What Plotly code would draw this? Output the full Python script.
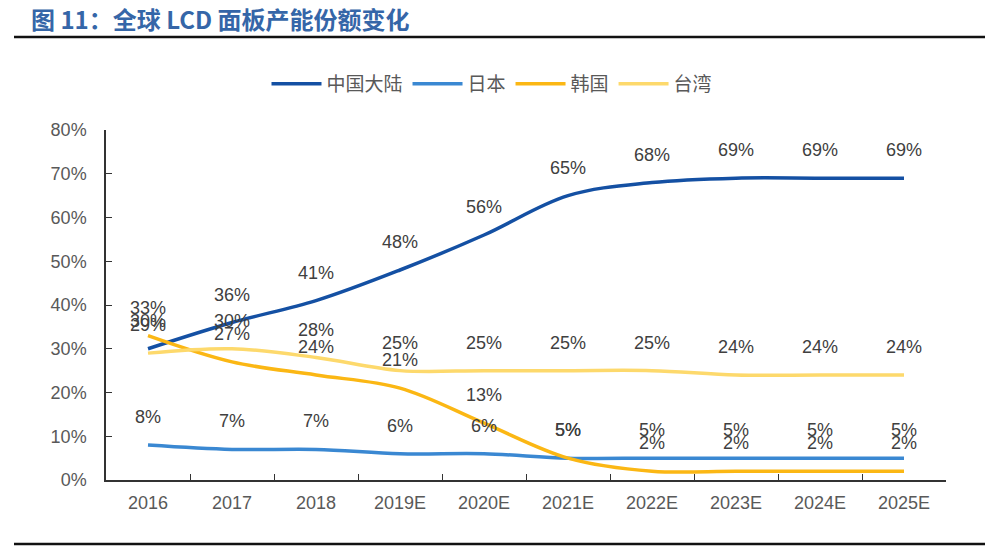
import plotly.graph_objects as go

years = ["2016", "2017", "2018", "2019E", "2020E", "2021E", "2022E", "2023E", "2024E", "2025E"]
china = [30, 36, 41, 48, 56, 65, 68, 69, 69, 69]
japan = [8, 7, 7, 6, 6, 5, 5, 5, 5, 5]
korea = [33, 27, 24, 21, 13, 5, 2, 2, 2, 2]
taiwan = [29, 30, 28, 25, 25, 25, 25, 24, 24, 24]

series = [
    ("中国大陆", china, "#1450a3"),
    ("日本", japan, "#3a88d2"),
    ("韩国", korea, "#fbb714"),
    ("台湾", taiwan, "#fdd96c"),
]

# page offset (body margin) compensation
OFF = 8
W, H = 1000, 553
L, T = 106 - OFF, 130 - OFF
pw, ph = 840, 350
R = W - L - pw
B = H - T - ph


def px_x(p):
    return (p - OFF - L) / pw


def px_y(p):
    return (H - B - (p - OFF)) / ph


fig = go.Figure()
annotations = []
for name, vals, color in series:
    fig.add_trace(go.Scatter(
        x=years, y=[v / 100 for v in vals], name=name, mode="lines",
        line=dict(color=color, width=3.5, shape="spline", smoothing=1.0),
    ))
    for i, v in enumerate(vals):
        annotations.append(dict(
            x=i, y=v / 100, xref="x", yref="y", text=f"{v}%", showarrow=False,
            yshift=28, font=dict(family="Liberation Sans, Arial", size=18, color="#404040"),
        ))

# title
annotations.append(dict(
    x=px_x(29), y=px_y(19), xref="paper", yref="paper", xanchor="left", yanchor="middle",
    text="<b>图 11：全球 LCD 面板产能份额变化</b>",
    showarrow=False, font=dict(family="Noto Sans CJK SC", size=24, color="#3566a8"),
))

shapes = [
    dict(type="line", xref="paper", yref="paper", x0=px_x(14), x1=px_x(985), y0=px_y(37), y1=px_y(37),
         line=dict(color="#111111", width=2.5)),
    dict(type="line", xref="paper", yref="paper", x0=px_x(14), x1=px_x(985), y0=px_y(544), y1=px_y(544),
         line=dict(color="#111111", width=2.5)),
]

fig.update_layout(
    width=W, height=H,
    margin=dict(l=L, r=R, t=T, b=B),
    paper_bgcolor="white", plot_bgcolor="white",
    annotations=annotations, shapes=shapes,
    showlegend=True,
    legend=dict(orientation="h", x=px_x(492), xanchor="center", y=px_y(84), yanchor="middle",
                font=dict(family="Noto Sans CJK SC", size=19, color="#595959"),
                itemwidth=50, tracegroupgap=0, bgcolor="rgba(0,0,0,0)"),
    xaxis=dict(type="category", showline=True, linecolor="#333333", linewidth=1.5,
               ticks="inside", tickson="boundaries", ticklen=6, tickcolor="#333333",
               showgrid=False, range=[-0.5, 9.5],
               tickfont=dict(family="Liberation Sans, Arial", size=18, color="#595959"),
               ticklabelstandoff=6),
    yaxis=dict(range=[0, 0.8], dtick=0.1, tickformat=".0%", showline=True, linecolor="#333333",
               linewidth=1.5, ticks="inside", ticklen=6, tickcolor="#333333", showgrid=False,
               zeroline=False,
               tickfont=dict(family="Liberation Sans, Arial", size=18, color="#595959"),
               ticklabelstandoff=14),
)

fig.write_html("out.html")
